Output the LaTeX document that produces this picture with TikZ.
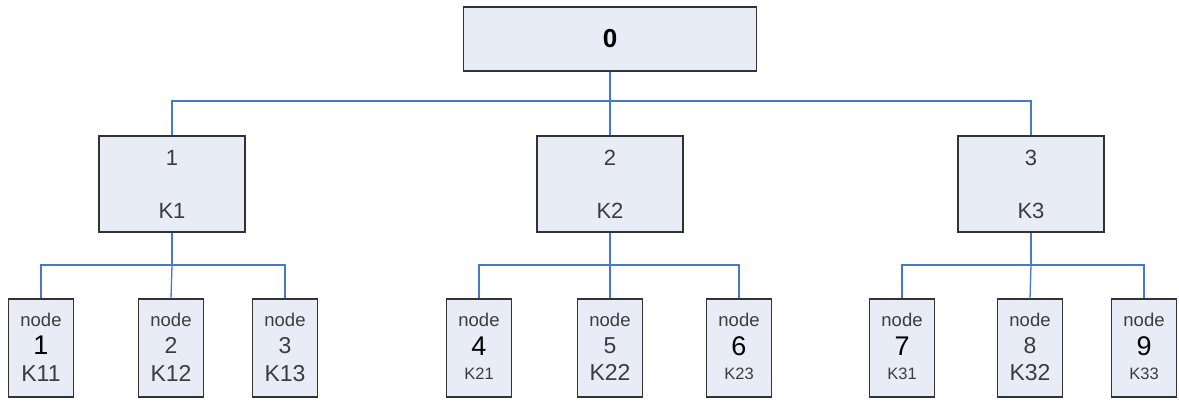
\documentclass[tikz,border=0pt]{standalone}
\usepackage{fontspec}
\setmainfont{Liberation Sans}
\begin{document}
\begin{tikzpicture}[x=1pt,y=-1pt,
  boxfill/.style={draw=black!80,fill=boxbg,line width=1.4pt,inner sep=0pt},
  rootbox/.style={boxfill,minimum width=293pt,minimum height=64pt},
  midbox/.style={boxfill,minimum width=146pt,minimum height=96pt},
  leafbox/.style={boxfill,minimum width=65pt,minimum height=98pt},
  busthick/.style={draw=linkblue,line width=2.8pt},
  busthin/.style={draw=linkblue,line width=1.3pt},
  txt/.style={anchor=base,inner sep=0pt,text=txtgray},
  midtxt/.style={txt,font=\fontsize{22}{24}\selectfont},
  nodetxt/.style={txt,font=\fontsize{18.5}{20}\selectfont},
  numhi/.style={txt,text=black,font=\fontsize{27}{29}\selectfont},
  numlo/.style={txt,font=\fontsize{23}{25}\selectfont},
  khi/.style={txt,font=\fontsize{23}{25}\selectfont},
  klo/.style={txt,font=\fontsize{16.5}{18}\selectfont},
]
\definecolor{boxbg}{RGB}{232,236,247}
\definecolor{linkblue}{RGB}{74,120,200}
\definecolor{txtgray}{RGB}{60,60,60}
\useasboundingbox (0,0) rectangle (1179,400);

% root
\node[rootbox] (root) at (610,39) {};
\node[txt,text=black,font=\bfseries\fontsize{26}{28}\selectfont] (t0) at (610,47) {0};

% second level
\node[midbox] (m1) at (172,184) {};
\node[midbox] (m2) at (610,184) {};
\node[midbox] (m3) at (1031,184) {};
\foreach \n/\x in {1/172,2/610,3/1031}{
  \node[midtxt] (mn\n) at (\x,165) {\n};
  \node[midtxt] (mk\n) at (\x,218) {K\n};
}

% leaves
\foreach \n/\x in {1/41,2/171,3/285,4/479,5/610,6/739,7/902,8/1030,9/1144}{
  \node[leafbox] (l\n) at (\x,348) {};
  \node[nodetxt] (ln\n) at (\x,326) {node};
}
\node[numhi] (lv1) at (41,354) {1};
\node[numlo] (lv2) at (171,353) {2};
\node[numlo] (lv3) at (285,353) {3};
\node[numhi] (lv4) at (479,355) {4};
\node[numlo] (lv5) at (610,353) {5};
\node[numhi] (lv6) at (739,355) {6};
\node[numhi] (lv7) at (902,355) {7};
\node[numlo] (lv8) at (1030,353) {8};
\node[numhi] (lv9) at (1144,355) {9};
\node[khi] (lk1) at (41,381) {K11};
\node[khi] (lk2) at (171,381) {K12};
\node[khi] (lk3) at (285,381) {K13};
\node[klo] (lk4) at (479,379) {K21};
\node[khi] (lk5) at (610,380) {K22};
\node[klo] (lk6) at (739,379) {K23};
\node[klo] (lk7) at (902,379) {K31};
\node[khi] (lk8) at (1030,380) {K32};
\node[klo] (lk9) at (1144,379) {K33};

% root to second level
\coordinate (j0) at (610,101);
\draw[busthick] (root.south) -- (j0);
\draw[busthick] (m1.north) |- (j0) -| (m3.north);
\draw[busthick] (j0) -- (m2.north);

% second level to leaves
\coordinate (j1) at (172,265);
\coordinate (j2) at (610,265);
\coordinate (j3) at (1031,265);
\draw[busthin] (m1.south) -- (j1);
\draw[busthin] (l1.north) |- (j1) -| (l3.north);
\draw[busthin] (j1) -- (l2.north);
\draw[busthin] (m2.south) -- (j2);
\draw[busthin] (l4.north) |- (j2) -| (l6.north);
\draw[busthin] (j2) -- (l5.north);
\draw[busthin] (m3.south) -- (j3);
\draw[busthin] (l7.north) |- (j3) -| (l9.north);
\draw[busthin] (j3) -- (l8.north);
\end{tikzpicture}
\end{document}
